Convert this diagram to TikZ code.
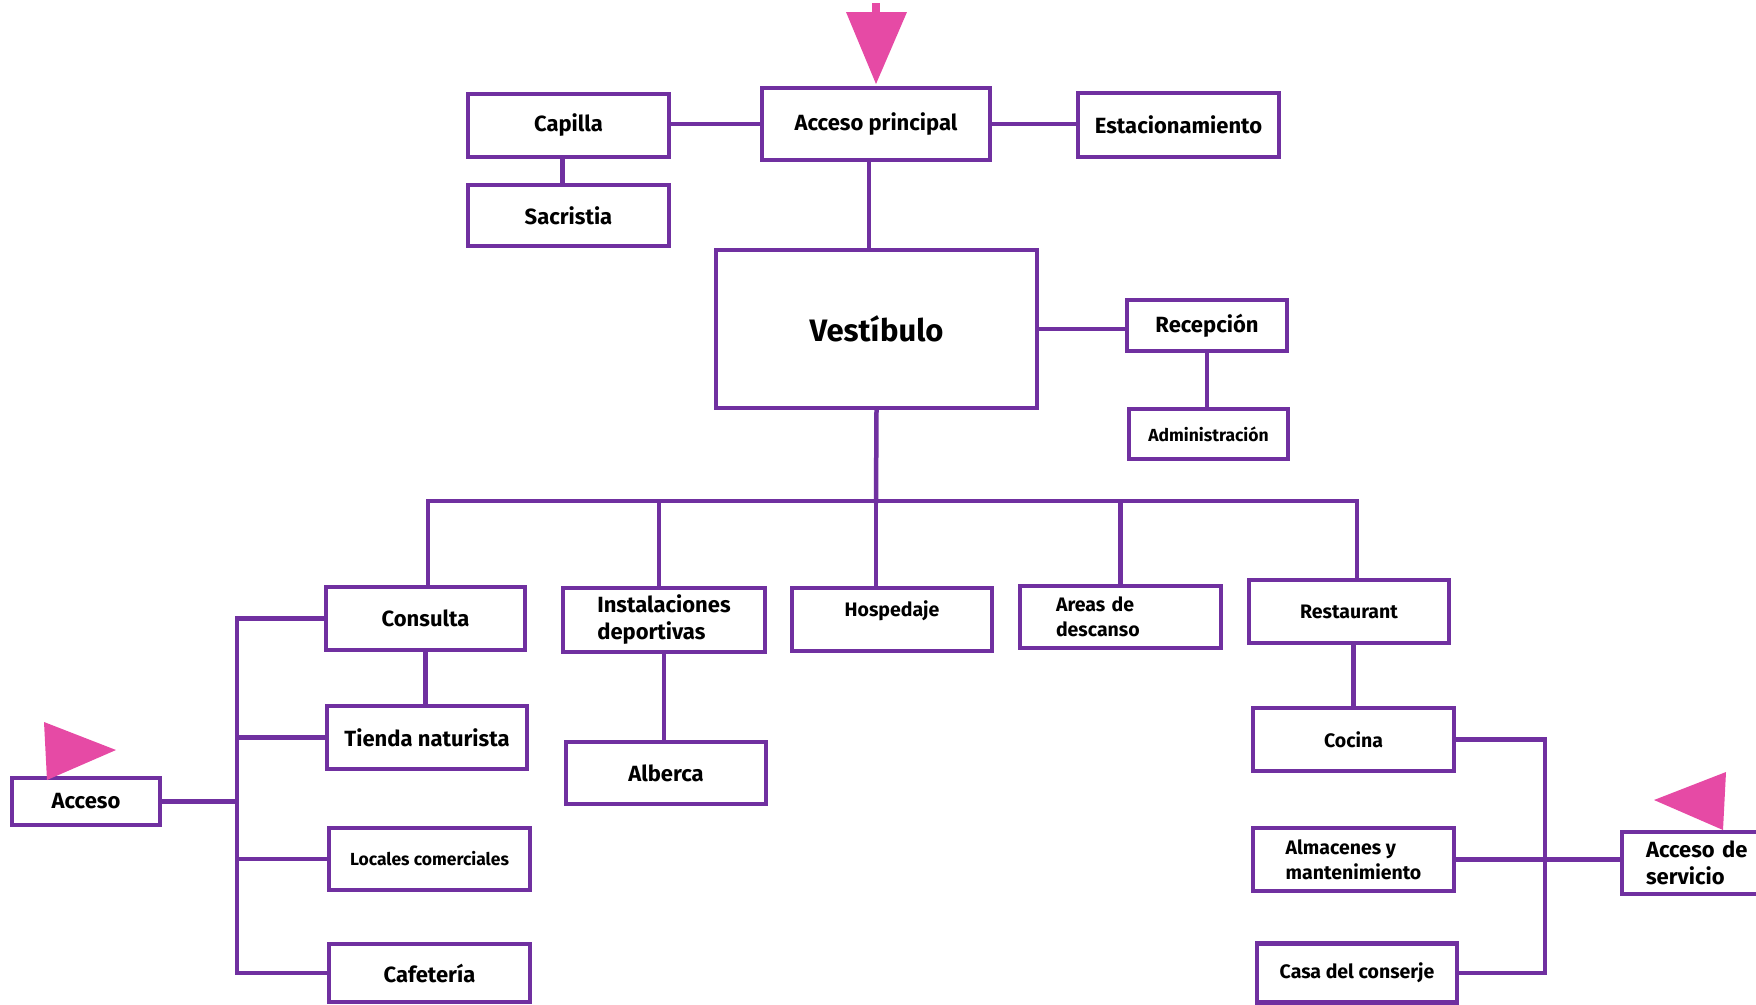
\documentclass[tikz,border=0pt]{standalone}
\usepackage{fontspec}
\setmainfont{Fira Sans}
\definecolor{boxc}{HTML}{7030A0}
\definecolor{pinkc}{HTML}{E64AA5}
\tikzset{
  box/.style={draw=boxc, line width=4.5pt, fill=white, inner sep=0pt, align=center},
  fXL/.style={font=\bfseries\fontsize{31}{36}\selectfont},
  fL/.style={font=\bfseries\fontsize{22}{27}\selectfont},
  fM/.style={font=\bfseries\fontsize{19.5}{25}\selectfont},
  fS/.style={font=\bfseries\fontsize{17.5}{22}\selectfont},
  link/.style={draw=boxc, line width=4.5pt, line cap=rect},
  arr/.style={fill=pinkc, draw=none}
}
\begin{document}
\begin{tikzpicture}[x=1pt,y=-1pt]
\useasboundingbox (0,0) rectangle (1756,1004);
\clip (0,0) rectangle (1756,1004);
% top row
\node[box,fL,minimum width=201pt,minimum height=63pt] (cap) at (568.5,125.5) {Capilla};
\node[box,fL,minimum width=228pt,minimum height=72pt] (acc) at (876,124) {Acceso principal};
\node[box,fL,minimum width=201pt,minimum height=64pt] (est) at (1178.5,125) {Estacionamiento};
\node[box,fL,minimum width=201pt,minimum height=61pt] (sac) at (568.5,215.5) {Sacristia};
\node[box,fXL,minimum width=321pt,minimum height=158pt] (ves) at (876.5,329) {Vestíbulo};
\node[box,fL,minimum width=160pt,minimum height=51pt] (rec) at (1207,325.5) {Recepción};
\node[box,fS,minimum width=159pt,minimum height=50pt] (adm) at (1208.5,434) {Administración};
% second level
\node[box,fL,minimum width=199pt,minimum height=63pt] (con) at (425.5,618.5) {Consulta};
\node[box,fL,minimum width=202pt,minimum height=64pt,align=left] (ins) at (664,620) {Instalaciones\\deportivas};
\node[box,fM,minimum width=200pt,minimum height=63pt] (hos) at (892,619.5) {\raisebox{22pt}{Hospedaje}};
\node[box,fM,minimum width=201pt,minimum height=62pt,text width=129pt,align=left] (are) at (1120.5,617) {Areas de\\descanso};
\node[box,fM,minimum width=200pt,minimum height=63pt] (res) at (1349,611.5) {Restaurant};
% left group
\node[box,fL,minimum width=200pt,minimum height=63pt] (tie) at (427,737.5) {Tienda naturista};
\node[box,fS,minimum width=201pt,minimum height=62pt] (loc) at (429.5,859) {Locales comerciales};
\node[box,fL,minimum width=201pt,minimum height=58pt] (caf) at (429.5,973) {Cafetería};
\node[box,fL,minimum width=148pt,minimum height=47pt] (acs) at (86,801.5) {Acceso};
\node[box,fL,minimum width=200pt,minimum height=62pt] (alb) at (666,773) {Alberca};
% right group
\node[box,fM,minimum width=201pt,minimum height=63pt] (coc) at (1353.5,739.5) {Cocina};
\node[box,fM,minimum width=201pt,minimum height=63pt,align=left] (alm) at (1353.5,859.5) {Almacenes y\\mantenimiento};
\node[box,fM,minimum width=200pt,minimum height=59pt] (cas) at (1357,973) {Casa del conserje};
\node[box,fL,minimum width=158pt,minimum height=62pt,text width=110pt,align=left] (srv) at (1701,863) {Acceso de\\servicio};
% connectors top
\draw[link] (acc.west) -- (acc.west -| cap.east);
\draw[link] (acc.east) -- (acc.east -| est.west);
\draw[link] ([xshift=-6pt]cap.south) -- ([xshift=-6pt]sac.north);
\draw[link] ([xshift=-7pt]acc.south) -- ([xshift=-7pt]acc.south |- ves.north);
\draw[link] (ves.east) -- (ves.east -| rec.west);
\draw[link] (rec.south) -- (rec.south |- adm.north);
% bus
\coordinate (bus) at (876,501);
\coordinate (busL) at (428,501);
\coordinate (busR) at (1357,501);
\draw[link] (ves.south) -- (bus);
\draw[link] (busL) -- (busR);
\draw[link] (busL) -- (busL |- con.north);
\draw[link] ([xshift=-5pt]ins.north |- bus) -- ([xshift=-5pt]ins.north);
\draw[link] (bus) -- (bus |- hos.north);
\draw[link] (are.north |- bus) -- (are.north);
\draw[link] (busR) -- (busR |- res.north);
\draw[link] (con.south) -- (con.south |- tie.north);
\draw[link] (ins.south) -- (ins.south |- alb.north);
\draw[link] (coc.north) -- (coc.north |- res.south);
% left bus
\coordinate (LX) at (237,0);
\draw[link] (con.west) -- (con.west -| LX) -- (caf.west -| LX) -- (caf.west);
\draw[link] (tie.west) -- (tie.west -| LX);
\draw[link] (loc.west) -- (loc.west -| LX);
\draw[link] (acs.east) -- (acs.east -| LX);
% right bus
\coordinate (RX) at (1545,0);
\draw[link] (coc.east) -- (coc.east -| RX) -- (cas.east -| RX) -- (cas.east);
\draw[link] (alm.east) -- (alm.east -| srv.west);
% pink arrows
\fill[arr] (846,12) -- (907,12) -- (876,84) -- cycle;
\fill[arr] (872,3) rectangle (880,14);
\fill[arr] (44,722) -- (116,750) -- (47,780) -- cycle;
\fill[arr] (1654,800) -- (1726,772) -- (1723,830) -- cycle;
\end{tikzpicture}
\end{document}
